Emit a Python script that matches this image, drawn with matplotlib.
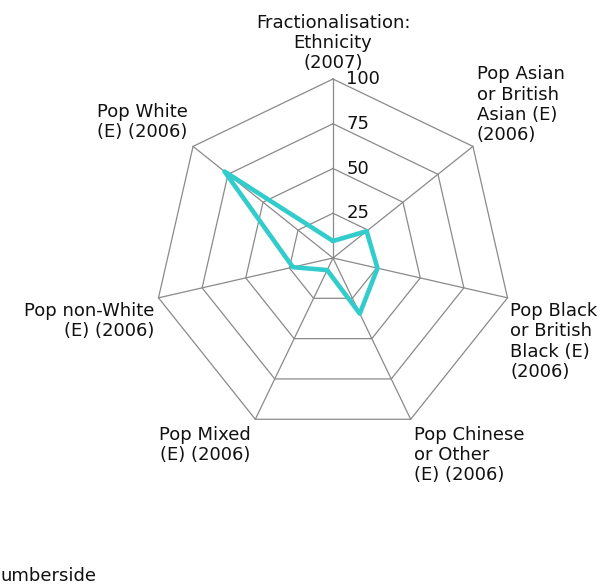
import numpy as np
import matplotlib.pyplot as plt

categories = ['Fractionalisation:\nEthnicity\n(2007)',
              'Pop Asian\nor British\nAsian (E)\n(2006)',
              'Pop Black\nor British\nBlack (E)\n(2006)',
              'Pop Chinese\nor Other\n(E) (2006)',
              'Pop Mixed\n(E) (2006)',
              'Pop non-White\n(E) (2006)',
              'Pop White\n(E) (2006)']
values = [9.5, 24, 25.5, 34.5, 7.5, 23, 77.5]
rings = [25, 50, 75, 100]
ring_labels = ['25', '50', '75', '100']
legend_text = 'umberside'

# pixel layout: centre at (333, 258), 100 -> 179 px
W, H = 608, 585
cx, cy, scale = 333, 258, 1.79

fig = plt.figure(figsize=(W / 100, H / 100), dpi=100)
ax = fig.add_axes([0, 0, 1, 1])
ax.set_xlim(-cx / scale, (W - cx) / scale)
ax.set_ylim(-(H - cy) / scale, cy / scale)
ax.axis('off')

n = len(categories)
ang = np.deg2rad(90 - np.arange(n) * 360 / n)
ca, sa = np.cos(ang), np.sin(ang)

grid_col = '#8a8a8a'
for r in rings:
    ax.plot(np.append(r * ca, r * ca[0]), np.append(r * sa, r * sa[0]),
            color=grid_col, lw=0.9, zorder=1)
for i in range(n):
    ax.plot([0, 100 * ca[i]], [0, 100 * sa[i]], color=grid_col, lw=0.9, zorder=1)

for r, lab in zip(rings, ring_labels):
    ax.text(7.5, r, lab, fontsize=13, ha='left', va='center', color='#111111', zorder=3)

v = np.array(values)
ax.plot(np.append(v * ca, v[0] * ca[0]), np.append(v * sa, v[0] * sa[0]),
        color='#33cccc', lw=3.3, solid_joinstyle='round', solid_capstyle='round',
        zorder=2)

fs = 13
col = '#111111'
# label placement per axis (offsets in data units)
ax.text(0, 104, categories[0], ha='center', va='bottom', fontsize=fs, color=col,
        linespacing=1.15)
ax.text(100 * ca[1] + 2, 100 * sa[1] + 1.5, categories[1], ha='left', va='bottom',
        fontsize=fs, color=col, linespacing=1.15)
ax.text(100 * ca[2] + 1.5, 100 * sa[2] - 2.5, categories[2], ha='left', va='top',
        fontsize=fs, color=col, linespacing=1.15)
ax.text(100 * ca[3] + 2, 100 * sa[3] - 3.5, categories[3], ha='left', va='top',
        fontsize=fs, color=col, linespacing=1.15)
ax.text(100 * ca[4] - 2.5, 100 * sa[4] - 3.5, categories[4], ha='right', va='top',
        fontsize=fs, color=col, linespacing=1.15)
ax.text(100 * ca[5] - 2.5, 100 * sa[5] - 2.5, categories[5], ha='right', va='top',
        fontsize=fs, color=col, linespacing=1.15)
ax.text(100 * ca[6] - 3, 100 * sa[6] + 3, categories[6], ha='right', va='bottom',
        fontsize=fs, color=col, linespacing=1.15)

fig.text(0, 9 / H, legend_text, ha='left', va='center', fontsize=fs, color=col)

fig.savefig('out.png', dpi=100)
